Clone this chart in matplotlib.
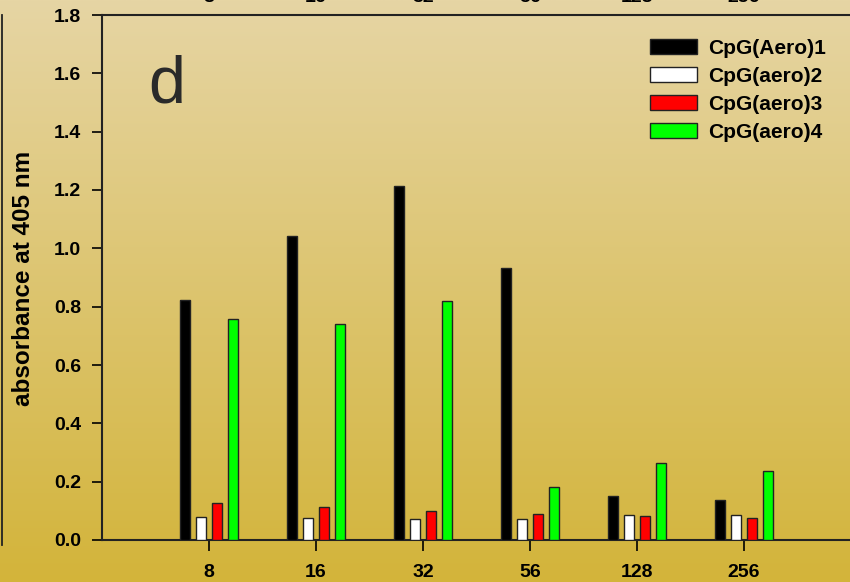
import numpy as np
import matplotlib
matplotlib.use("Agg")
import matplotlib.pyplot as plt
from matplotlib.lines import Line2D

plt.rcParams['font.family'] = ['Liberation Sans', 'DejaVu Sans']

# dados
doses = ["8", "16", "32", "56", "128", "256"]
series = ["CpG(Aero)1", "CpG(aero)2", "CpG(aero)3", "CpG(aero)4"]
aero1 = [0.823, 1.042, 1.214, 0.933, 0.151, 0.137]
aero2 = [0.080, 0.075, 0.072, 0.072, 0.085, 0.085]
aero3 = [0.128, 0.113, 0.100, 0.089, 0.083, 0.074]
aero4 = [0.757, 0.740, 0.819, 0.182, 0.263, 0.237]
cores = ["#000000", "#ffffff", "#ff0000", "#00ff00"]

fig = plt.figure(figsize=(8.5, 5.82), dpi=100)

# fundo em degradê
bg = fig.add_axes([0, 0, 1, 1], zorder=-10)
topo = np.array([230, 213, 164]) / 255
base = np.array([211, 180, 58]) / 255
s = np.linspace(0, 1, 256)[:, None]
grad = topo[None, :] * (1 - s) + base[None, :] * s
bg.imshow(grad[:, None, :].repeat(2, axis=1), aspect='auto', extent=[0, 1, 0, 1])
bg.set_axis_off()

ax = fig.add_axes([102 / 850, 1 - 540 / 582, 749 / 850, 525 / 582])
ax.patch.set_alpha(0)

x = np.arange(1, len(doses) + 1)
passo = 0.15
larg = 0.093
for i, (vals, c, nome) in enumerate(zip([aero1, aero2, aero3, aero4], cores, series)):
    ax.bar(x + (i - 1.5) * passo, vals, width=larg, color=c, edgecolor="#222222",
           linewidth=1, label=nome, zorder=3)

ax.set_xlim(0, 7)
ax.set_ylim(0, 1.8)
ax.set_yticks(np.arange(0, 1.81, 0.2))
ax.set_yticklabels([f"{v:.1f}" for v in np.arange(0, 1.81, 0.2)])
ax.set_xticks(x)
ax.set_xticklabels(doses)
for lab in ax.get_xticklabels() + ax.get_yticklabels():
    lab.set_fontweight('bold')
    lab.set_fontsize(14)
ax.tick_params(axis='y', direction='out', length=7, width=1.2, pad=8)
ax.tick_params(axis='x', direction='out', length=8, width=1.2, pad=9)
ax.spines['right'].set_visible(False)
for sp in ['left', 'bottom', 'top']:
    ax.spines[sp].set_linewidth(1.5)
    ax.spines[sp].set_color('#222222')

fig.text(24 / 850, 1 - 278 / 582, "absorbance at 405 nm", rotation=90,
         ha='center', va='center', fontsize=17.5, fontweight='bold')

ax.text((148 - 102) / 749, 1 - (103 - 15) / 525, "d",
        transform=ax.transAxes, fontsize=48, color='#2a2a2a', va='baseline')

leg = ax.legend(loc='upper left', bbox_to_anchor=((650 - 102) / 749, 1 - (39 - 15) / 525),
                frameon=False, prop={'weight': 'bold', 'size': 15},
                handlelength=2.26, handleheight=0.72, labelspacing=0.43,
                handletextpad=0.53, borderpad=0, borderaxespad=0)

# restos do gráfico de cima
for xi, d in zip(x, doses):
    xf = (102 + xi * 107) / 850
    fig.text(xf, 1 - 2 / 582, d, ha='center', va='baseline', fontsize=14, fontweight='bold')
fig.add_artist(Line2D([2 / 850, 2 / 850], [1 - 15 / 582, 1 - 545 / 582],
                      transform=fig.transFigure, color='#222222', lw=1.3))

fig.savefig("out.png", dpi=100)
